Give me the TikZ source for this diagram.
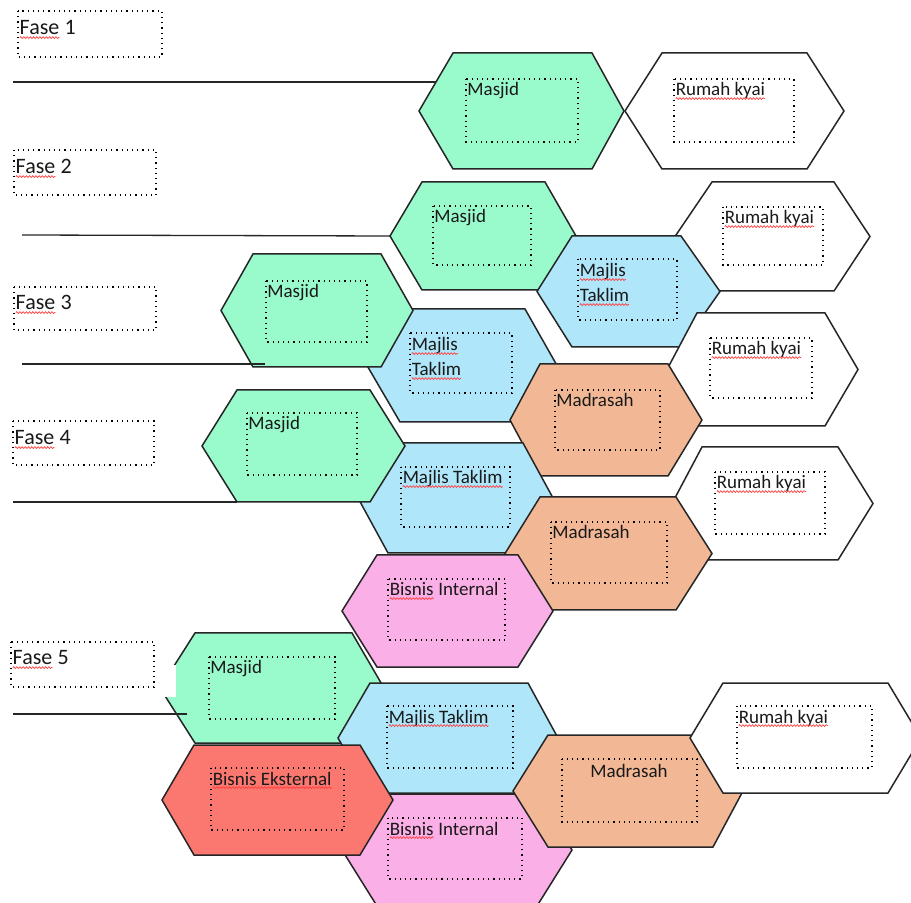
\documentclass[tikz,border=0pt]{standalone}
\usepackage{fontspec}
\setmainfont{Carlito}
\usetikzlibrary{decorations.pathmorphing,calc}
\definecolor{hgreen}{RGB}{153,250,204}
\definecolor{hblue}{RGB}{175,230,250}
\definecolor{horange}{RGB}{242,184,150}
\definecolor{hpink}{RGB}{250,175,230}
\definecolor{hred}{RGB}{250,120,112}
\tikzset{
  hexstyle/.style={draw=black!85, line width=0.75pt, line join=miter},
  ibox/.style={draw=black, dotted, line width=0.6pt},
  lbl/.style={font=\fontsize{9.5}{11}\selectfont, inner sep=0pt, anchor=base west, text=black!90},
  faselbl/.style={font=\fontsize{11}{13}\selectfont, inner sep=0pt, anchor=base west, text=black!90},
  fline/.style={draw=black!85, line width=0.65pt},
  squig/.style={draw=red!75, line width=0.35pt, decorate, decoration={snake, segment length=1.6pt, amplitude=0.45pt}}
}
\newcommand{\hexa}[8]{%
  \coordinate (#1-L) at (#2,{(#6+#7)/2});
  \coordinate (#1-TL) at (#3,#6);
  \coordinate (#1-TR) at (#4,#6);
  \coordinate (#1-R) at (#5,{(#6+#7)/2});
  \coordinate (#1-BR) at (#4,#7);
  \coordinate (#1-BL) at (#3,#7);
  \filldraw[hexstyle, fill=#8] (#1-L) -- (#1-TL) -- (#1-TR) -- (#1-R) -- (#1-BR) -- (#1-BL) -- cycle;}
\newcommand{\ibx}[4]{\draw[ibox] (#1,#2) rectangle (#3,#4);}
\newcommand{\sq}[1]{\tikz[baseline=(sqw.base)]{\node[inner sep=0pt, outer sep=0pt, anchor=base west] (sqw) at (0,0) {#1};\draw[squig] ([yshift=-1.3pt]sqw.base west) -- ([yshift=-1.3pt]sqw.base east);}}
\begin{document}
\begin{tikzpicture}[x=0.5pt, y=-0.5pt]
\path[fill=white, use as bounding box] (0,0) rectangle (911,903);

% ---------- Fase 1 ----------
\draw[ibox] (18,11) rectangle (162,57);
\node[faselbl] (fase1) at (19,35) {\sq{Fase} 1};
\hexa{M1}{419}{453}{592}{624}{53}{169}{hgreen}
\hexa{R1}{625}{662}{807}{844}{53}{169}{white}
\ibx{466}{79}{578}{142}
\node[lbl] (tM1) at (467,96) {Masjid};
\ibx{674}{79}{794}{142}
\node[lbl] (tR1) at (675,96) {\sq{Rumah kyai}};
\coordinate (f1s) at (13,82);
\draw[fline] (f1s) -- ($(M1-TL)!0.5!(M1-L)$);

% ---------- Fase 2 ----------
\draw[ibox] (14,150) rectangle (156,195);
\node[faselbl] (fase2) at (15,174) {\sq{Fase} 2};
\hexa{M2}{390}{422}{545}{576}{182}{290}{hgreen}
\hexa{R2}{675}{712}{834}{870}{182}{291}{white}
\hexa{J2}{537}{572}{681}{720}{236}{347}{hblue}
\ibx{433}{206}{531}{265}
\node[lbl] (tM2) at (434,223) {Masjid};
\ibx{578}{259}{677}{320}
\node[lbl] (tJ2a) at (579,277) {\sq{Majlis}};
\node[lbl] (tJ2b) at (579,302) {\sq{Taklim}};
\ibx{723}{207}{823}{265}
\node[lbl] (tR2) at (724,224) {\sq{Rumah kyai}};
\coordinate (f2s) at (22,235);
\draw[fline] (f2s) -- (M2-L);

% ---------- Fase 3 ----------
\draw[ibox] (14,287) rectangle (156,330);
\node[faselbl] (fase3) at (15,310) {\sq{Fase} 3};
\hexa{J3}{367}{400}{525}{557}{309}{422}{hblue}
\hexa{M3}{221}{253}{381}{413}{254}{367}{hgreen}
\hexa{R3}{667}{697}{825}{858}{313}{426}{white}
\hexa{D3}{510}{540}{668}{702}{364}{476}{horange}
\ibx{266}{281}{367}{342}
\node[lbl] (tM3) at (267,298) {Masjid};
\ibx{410}{333}{512}{393}
\node[lbl] (tJ3a) at (411,351) {\sq{Majlis}};
\node[lbl] (tJ3b) at (411,376) {\sq{Taklim}};
\ibx{555}{390}{660}{450}
\node[lbl] (tD3) at (556,407) {Madrasah};
\ibx{710}{338}{812}{398}
\node[lbl] (tR3) at (711,355) {\sq{Rumah kyai}};
\coordinate (f3s) at (22,364);
\draw[fline] (f3s) -- ($(M3-BL)+(12,-3)$);

% ---------- Fase 4 ----------
\draw[ibox] (13,421) rectangle (154,465);
\node[faselbl] (fase4) at (14,445) {\sq{Fase} 4};
\hexa{R4}{672}{702}{838}{873}{447}{560}{white}
\hexa{J4}{358}{388}{523}{553}{443}{553}{hblue}
\hexa{M4}{202}{237}{370}{405}{390}{502}{hgreen}
\hexa{D4}{505}{540}{676}{712}{497}{610}{horange}
\hexa{P4}{342}{377}{518}{553}{555}{667}{hpink}
\ibx{247}{413}{357}{475}
\node[lbl] (tM4) at (248,430) {Masjid};
\ibx{401}{467}{510}{527}
\node[lbl] (tJ4) at (402,484) {\sq{Majlis Taklim}};
\ibx{551}{522}{667}{583}
\node[lbl] (tD4) at (552,539) {Madrasah};
\ibx{715}{472}{825}{534}
\node[lbl] (tR4) at (716,489) {\sq{Rumah kyai}};
\ibx{388}{579}{505}{640}
\node[lbl] (tP4) at (389,596) {\sq{Bisnis} Internal};
\coordinate (f4s) at (13,502);
\draw[fline] (f4s) -- (M4-BL);

% ---------- Fase 5 ----------
\hexa{M5}{160}{195}{352}{384}{633}{743}{hgreen}
\fill[white] (157,665) rectangle (176,697);
\draw[ibox] (11,642) rectangle (154,687);
\node[faselbl] (fase5) at (12,665) {\sq{Fase} 5};
\hexa{J5}{338}{370}{528}{558}{683}{793}{hblue}
\hexa{P5}{342}{377}{537}{572}{794}{906}{hpink}
\hexa{E5}{162}{194}{360}{393}{745}{855}{hred}
\hexa{D5}{513}{548}{713}{743}{735}{847}{horange}
\hexa{R5}{690}{723}{888}{921}{683}{793}{white}
\ibx{209}{657}{335}{719}
\node[lbl] (tM5) at (210,674) {Masjid};
\ibx{387}{706}{513}{768}
\node[lbl] (tJ5) at (388,723) {\sq{Majlis Taklim}};
\ibx{211}{768}{344}{830}
\node[lbl] (tE5) at (212,785) {\sq{Bisnis Eksternal}};
\ibx{388}{818}{522}{879}
\node[lbl] (tP5) at (389,835) {\sq{Bisnis} Internal};
\ibx{562}{759}{697}{822}
\node[lbl] (tD5) at (590,777) {Madrasah};
\ibx{737}{706}{872}{768}
\node[lbl] (tR5) at (738,723) {\sq{Rumah kyai}};
\coordinate (f5s) at (13,714);
\coordinate (f5e) at (187,714);
\draw[fline] (f5s) -- (f5e);
\end{tikzpicture}
\end{document}
